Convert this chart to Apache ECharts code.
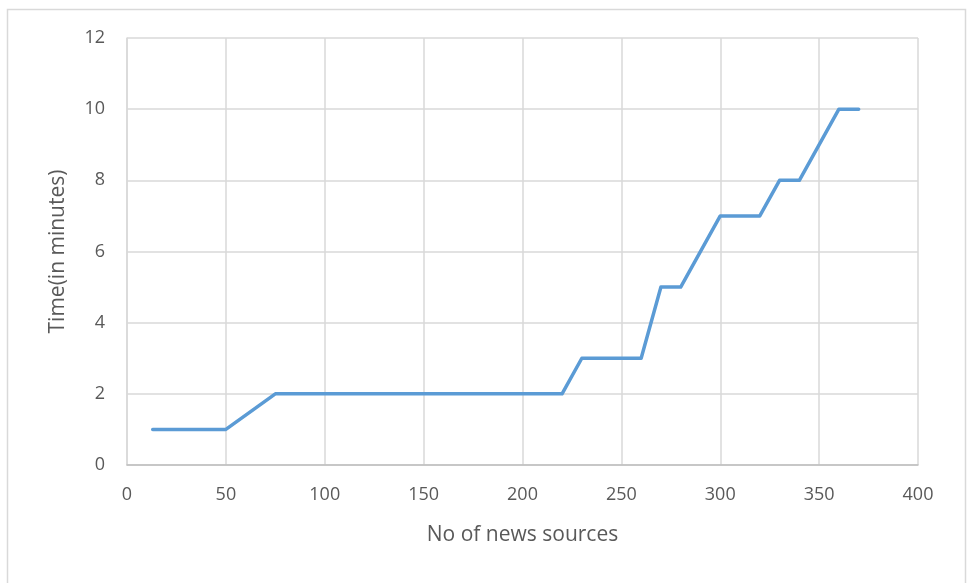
<!DOCTYPE html>
<html>
<head>
<meta charset="utf-8">
<script src="https://cdn.jsdelivr.net/npm/echarts@6/dist/echarts.min.js"></script>
<style>
  html, body { margin: 0; padding: 0; background: #fff; }
  #Lineone { width: 969px; height: 583px; }
</style>
</head>
<body>
<div id="Lineone"></div>
<script>
// 数据
const sources = [13, 50, 75, 220, 230, 260, 270, 280, 300, 320, 330, 340, 360, 370]
const minutes = [1, 1, 2, 2, 3, 3, 5, 5, 7, 7, 8, 8, 10, 10]
const xTicks = [0, 50, 100, 150, 200, 250, 300, 350, 400]
const yTicks = [0, 2, 4, 6, 8, 10, 12]

const chartInstance = echarts.init(document.getElementById('Lineone'))
const font = '"Open Sans", "Liberation Sans", sans-serif'
let option = {
  animation: false,
  graphic: [
    {
      type: 'rect',
      shape: { x: 7.5, y: 9.5, width: 958, height: 600 },
      style: { fill: 'none', stroke: '#d9d9d9', lineWidth: 1.5 },
      silent: true,
    },
  ],
  grid: {
    left: 127,
    right: 51,
    top: 38,
    bottom: 118,
  },
  xAxis: {
    type: 'value',
    min: xTicks[0],
    max: xTicks[xTicks.length - 1],
    interval: 50,
    name: 'No of news sources',
    nameLocation: 'middle',
    nameGap: 60,
    nameTextStyle: { color: '#595959', fontSize: 21, fontFamily: font },
    axisLine: { show: true, lineStyle: { color: '#bfbfbf', width: 1.5 } },
    axisTick: { show: false },
    axisLabel: { color: '#595959', fontSize: 18, fontFamily: font, margin: 21 },
    splitLine: { show: true, lineStyle: { color: '#d9d9d9', width: 1.5 } },
  },
  yAxis: {
    type: 'value',
    min: yTicks[0],
    max: yTicks[yTicks.length - 1],
    interval: 2,
    name: 'Time(in minutes)',
    nameLocation: 'middle',
    nameGap: 58,
    nameTextStyle: { color: '#595959', fontSize: 21, fontFamily: font },
    axisLine: { show: true, lineStyle: { color: '#d9d9d9', width: 1.5 } },
    axisTick: { show: false },
    axisLabel: { color: '#595959', fontSize: 18, fontFamily: font, margin: 22 },
    splitLine: { show: true, lineStyle: { color: '#d9d9d9', width: 1.5 } },
  },
  series: [
    {
      type: 'line',
      data: sources.map((x, i) => [x, minutes[i]]),
      symbol: 'none',
      lineStyle: { color: '#5b9bd5', width: 3.5, cap: 'round', join: 'round' },
    },
  ],
}
chartInstance.setOption(option)
</script>
</body>
</html>
